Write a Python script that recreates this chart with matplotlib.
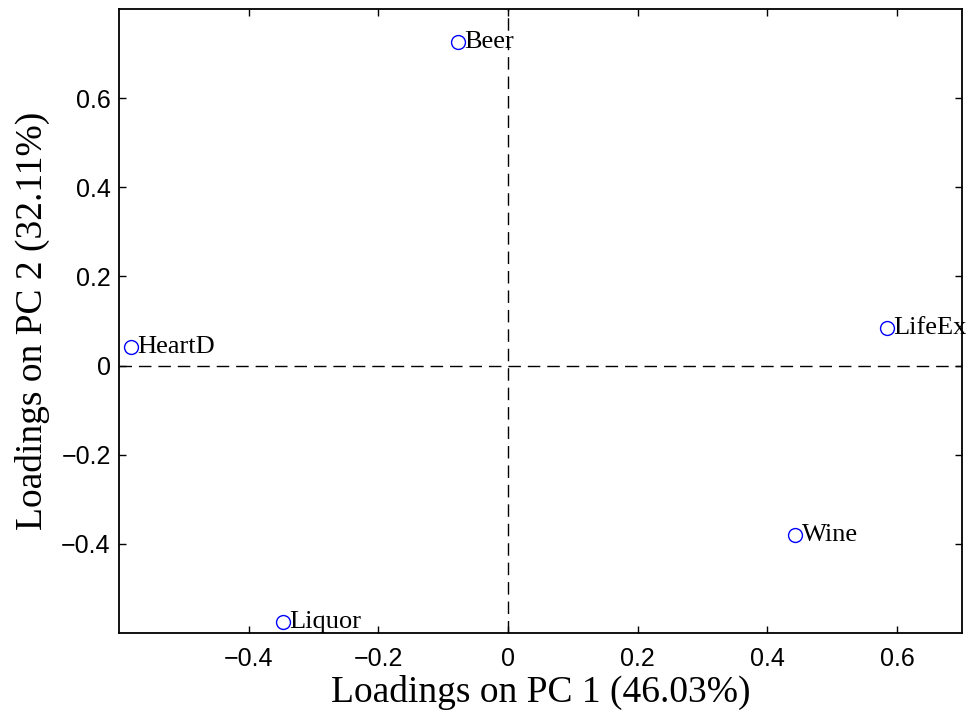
import matplotlib
matplotlib.use("Agg")
import matplotlib.pyplot as plt

# loadings
names = ["Beer", "HeartD", "LifeEx", "Wine", "Liquor"]
pc1 = [-0.077, -0.581, 0.584, 0.443, -0.347]
pc2 = [0.726, 0.041, 0.084, -0.380, -0.575]
xticks = [-0.4, -0.2, 0, 0.2, 0.4, 0.6]
yticks = [-0.4, -0.2, 0, 0.2, 0.4, 0.6]
xlabel = "Loadings on PC 1 (46.03%)"
ylabel = "Loadings on PC 2 (32.11%)"

fig = plt.figure(figsize=(9.71, 7.15), dpi=100)
ax = fig.add_axes([0.1226, 0.1147, 0.8681, 0.8727])

ax.axhline(0, color="k", lw=1.0, dashes=(9, 5), zorder=1)
ax.axvline(0, color="k", lw=1.0, dashes=(9, 5), zorder=1)

ax.plot(pc1, pc2, "o", ms=10, mfc="none", mec=(0, 0, 1), mew=1.0, zorder=3)
for n, x, y in zip(names, pc1, pc2):
    ax.annotate(n, (x, y), xytext=(4.5, 0), textcoords="offset points",
                va="center", ha="left", fontsize=19,
                family="Liberation Serif", zorder=4)

ax.set_xlim(-0.6, 0.7)
ax.set_ylim(-0.6, 0.8)
ax.set_xticks(xticks)
ax.set_yticks(yticks)
ax.set_xticklabels(["\u22120.4", "\u22120.2", "0", "0.2", "0.4", "0.6"])
ax.set_yticklabels(["\u22120.4", "\u22120.2", "0", "0.2", "0.4", "0.6"])

for lab in ax.get_xticklabels() + ax.get_yticklabels():
    lab.set_family("Liberation Sans")
    lab.set_fontsize(18)

ax.tick_params(direction="in", length=5, width=1.0, top=True, right=True)
ax.tick_params(axis="x", pad=10)
ax.tick_params(axis="y", pad=6)
for s in ax.spines.values():
    s.set_linewidth(1.3)

ax.set_xlabel(xlabel, family="Liberation Serif", fontsize=27, labelpad=3)
ax.set_ylabel(ylabel, family="Liberation Serif", fontsize=27, labelpad=8)

fig.savefig("out.png", dpi=100)
